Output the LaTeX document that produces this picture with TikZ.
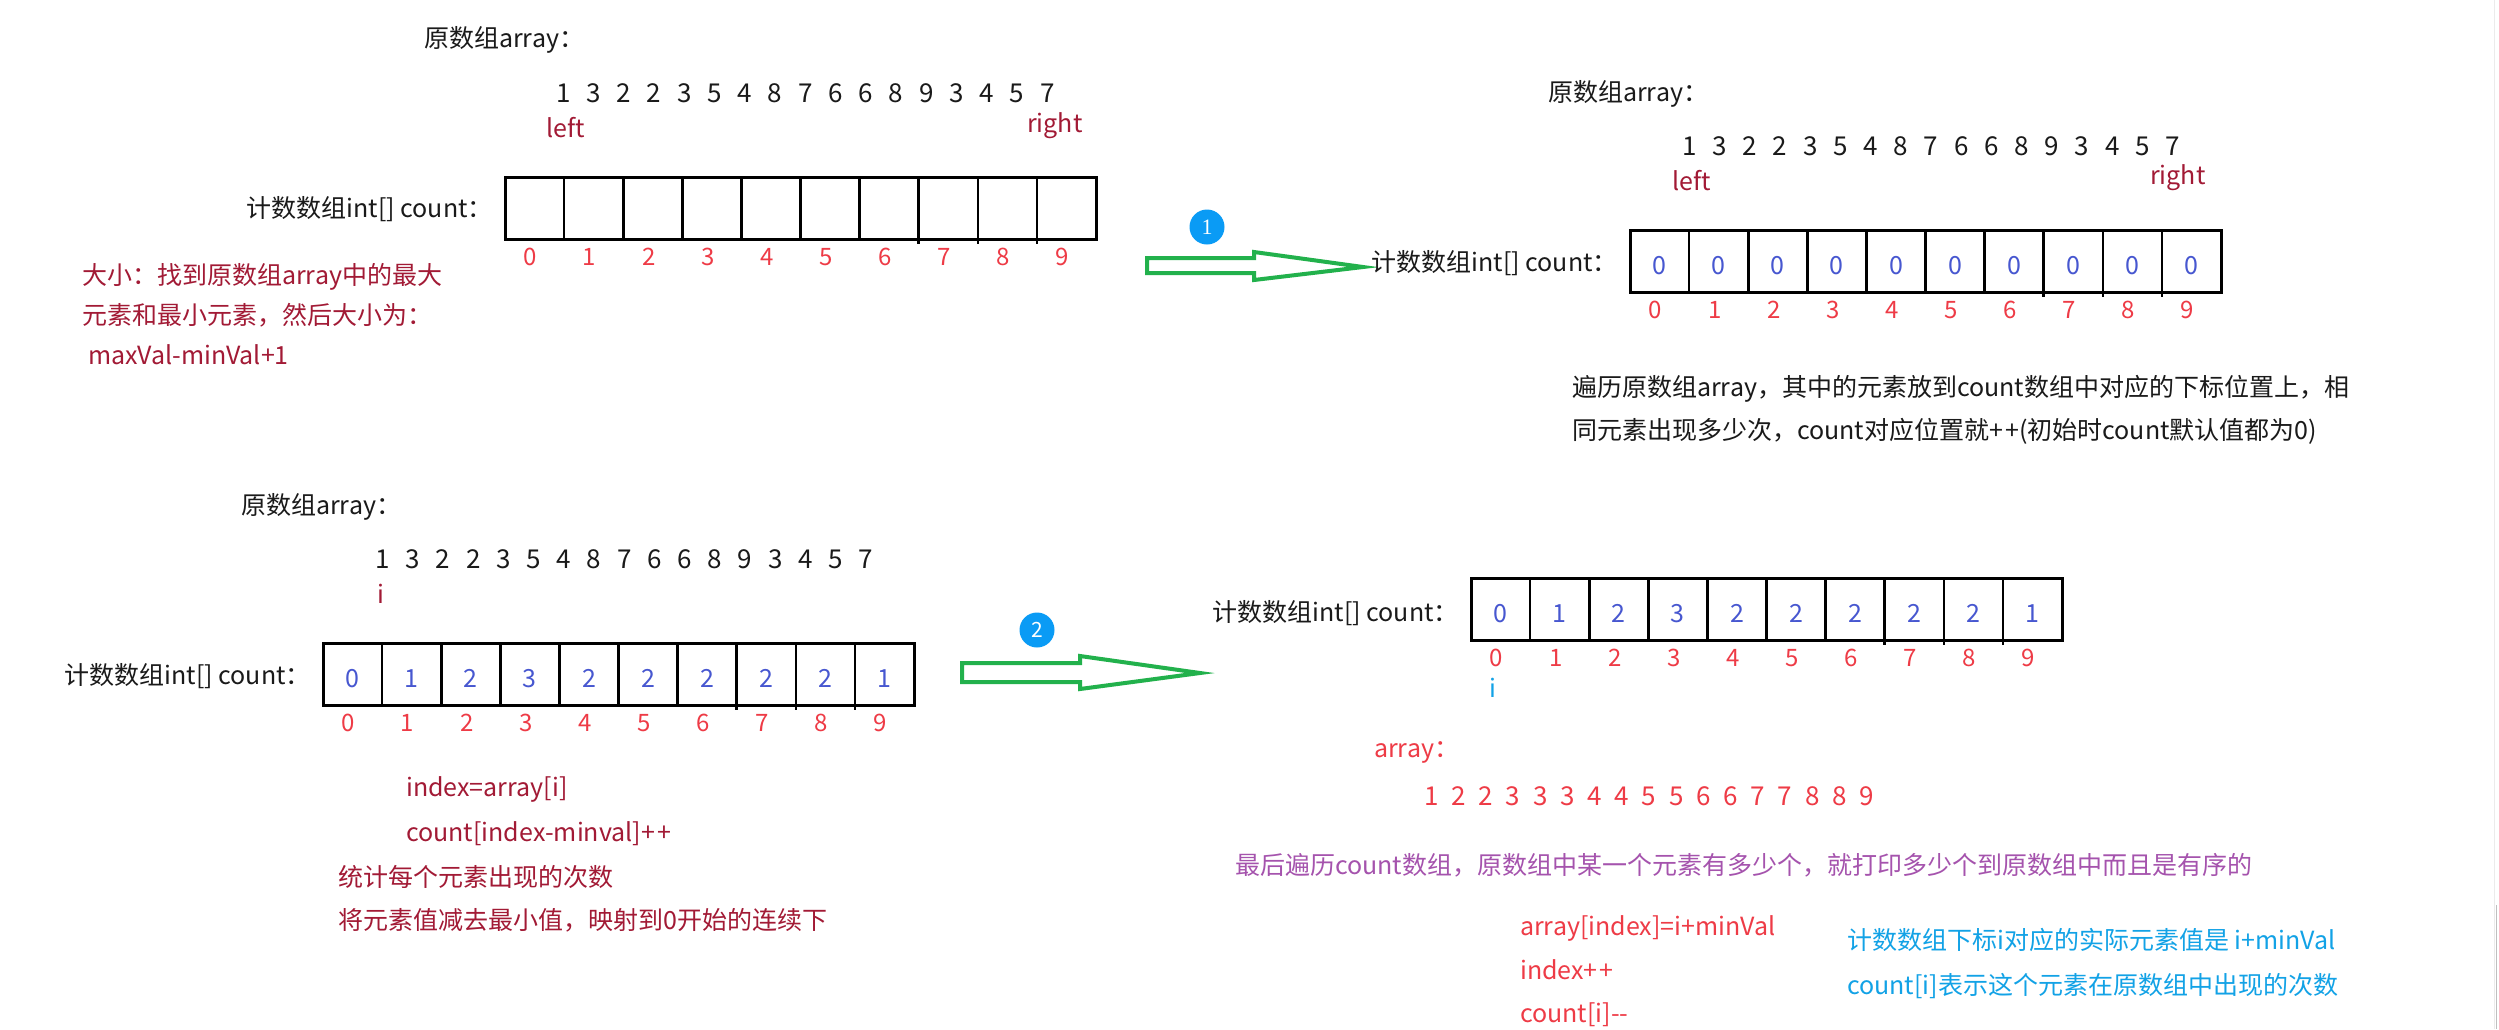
\documentclass[tikz,border=0pt]{standalone}
\usepackage{fontspec}
\setmainfont{Noto Sans CJK SC}
\newfontfamily\badgeserif{Liberation Serif}
\definecolor{dred}{HTML}{A21A35}
\definecolor{bred}{HTML}{EE3B46}
\definecolor{vblue}{HTML}{4757D0}
\definecolor{purp}{HTML}{A553AD}
\definecolor{cyanb}{HTML}{12A2E6}
\definecolor{cblue}{HTML}{0A9BF5}
\definecolor{agreen}{HTML}{22B14C}
\definecolor{txtblack}{HTML}{1A1A1A}
\newcommand\pp{+\kern2pt+}
\newcommand\cntframe[2]{%
  \draw[boxline] (#1,#2) rectangle ++(591,62);
  \foreach \k in {1,...,9} {\draw[divline] ({#1+59.1*\k},#2) -- ++(0,62);}
  \foreach \k in {7,8,9} {\draw[divline] ({#1+59.1*\k},{#2+62}) -- ++(0,5);}
}
\newcommand\idxrow[3]{%
  \foreach \k in {0,...,9} {\node[idx] (#1\k) at ({#2+29.55+59.1*\k-4},{#3+62+18+8}) {\k};}
}
\newcommand\valrow[4]{%
  \foreach \v [count=\k from 0] in {#4} {\node[val] (#1\k) at ({#2+29.55+59.1*\k},{#3+36+8.5}) {\v};}
}
\newcommand\digrow[6]{%
  \foreach \d [count=\k from 0] in {#6} {\node[dig, text=#5] (#1\k) at ({#2+#3*\k},{#4+8.5}) {\d};}
}
\begin{document}
\begin{tikzpicture}[x=1pt,y=-1pt,
  txt/.style={anchor=base west, inner sep=0pt, font=\fontsize{25}{30}\selectfont, text=txtblack},
  lbl/.style={anchor=base east, inner sep=0pt, font=\fontsize{25}{30}\selectfont, text=txtblack},
  dig/.style={anchor=base, inner sep=0pt, font=\fontsize{26}{30}\selectfont},
  val/.style={anchor=base, inner sep=0pt, font=\fontsize{25}{30}\selectfont, text=vblue},
  idx/.style={anchor=base, inner sep=0pt, font=\fontsize{24}{28}\selectfont, text=bred},
  boxline/.style={line width=3pt, draw=black},
  divline/.style={line width=2.6pt, draw=black},
  blockarrow/.style={draw=agreen, line width=4pt, fill=white, line join=miter},
  badge/.style={circle, fill=cblue, minimum size=35pt, inner sep=0pt, text=white}
]
\fill[white] (0,0) rectangle (2499,1029);
\useasboundingbox (0,0) rectangle (2499,1029);
\draw[black!8, line width=1pt] (2494,0) -- (2494,1029);
\draw[black!25, line width=1pt] (2496,905) -- (2496,1029);

% ---------- top left ----------
\node[txt] (t1) at (424,47.5) {原数组array：};
\digrow{ra}{563.3}{30.25}{94}{txtblack}{1,3,2,2,3,5,4,8,7,6,6,8,9,3,4,5,7}
\node[txt, text=dred] (l1) at (546,137) {left};
\node[txt, text=dred] (g1) at (1027,132) {right};
\node[lbl] (c1) at (493,217.5) {计数数组int[] count：};
\cntframe{505}{177}
\idxrow{ia}{505}{177}
\node[txt, text=dred] (s1) at (82,284.5) {大小：找到原数组array中的最大};
\node[txt, text=dred] (s2) at (82,324.5) {元素和最小元素，然后大小为：};
\node[txt, text=dred] (s3) at (88,364) {maxVal-minVal+1};

% ---------- arrow 1 ----------
\node[badge, font=\badgeserif\fontsize{22}{24}\selectfont] (b1) at (1207,227) {1};
\draw[blockarrow] (1147,258) -- (1254,258) -- (1254,252) -- (1363,267) -- (1254,280) -- (1254,273) -- (1147,273) -- cycle;

% ---------- top right ----------
\node[txt] (t2) at (1548,101.5) {原数组array：};
\digrow{rb}{1689.4}{30.2}{147}{txtblack}{1,3,2,2,3,5,4,8,7,6,6,8,9,3,4,5,7}
\node[txt, text=dred] (l2) at (1672,190) {left};
\node[txt, text=dred] (g2) at (2150,184) {right};
\node[lbl] (c2) at (1618,271.5) {计数数组int[] count：};
\cntframe{1630}{230}
\valrow{vb}{1630}{230}{0,0,0,0,0,0,0,0,0,0}
\idxrow{ib}{1630}{230}
\node[txt] (p1) at (1572,396.5) {遍历原数组array，其中的元素放到count数组中对应的下标位置上，相};
\node[txt] (p2) at (1572,439.5) {同元素出现多少次，count对应位置就\pp(初始时count默认值都为0)};

% ---------- bottom left ----------
\node[txt] (t3) at (241,514.5) {原数组array：};
\digrow{rc}{382.7}{30.2}{560}{txtblack}{1,3,2,2,3,5,4,8,7,6,6,8,9,3,4,5,7}
\node[txt, anchor=base, text=dred] (i3) at (381,603) {i};
\node[lbl] (c3) at (311,684.5) {计数数组int[] count：};
\cntframe{323}{643}
\valrow{vc}{323}{643}{0,1,2,3,2,2,2,2,2,1}
\idxrow{ic}{323}{643}
\node[txt, text=dred] (q1) at (406,796) {index=array[i]};
\node[txt, text=dred] (q2) at (406,841) {count[index-minval]\pp};
\node[txt, text=dred] (q3) at (338,886.5) {统计每个元素出现的次数};
\node[txt, text=dred] (q4) at (338,929.5) {将元素值减去最小值，映射到0开始的连续下};

% ---------- arrow 2 ----------
\node[badge, font=\fontsize{21}{24}\selectfont] (b2) at (1037,630) {2};
\draw[blockarrow] (962,663) -- (1080,663) -- (1080,656) -- (1200,673) -- (1080,689) -- (1080,682) -- (962,682) -- cycle;

% ---------- bottom right ----------
\node[lbl] (c4) at (1459,621.5) {计数数组int[] count：};
\cntframe{1471}{578}
\valrow{vd}{1471}{578}{0,1,2,3,2,2,2,2,2,1}
\idxrow{id}{1471}{578}
\node[txt, anchor=base, text=cyanb] (i4) at (1493,697) {i};
\node[txt, text=bred] (a4) at (1374,757) {array：};
\digrow{rd}{1431.4}{27.2}{797}{bred}{1,2,2,3,3,3,4,4,5,5,6,6,7,7,8,8,9}
\node[txt, text=purp] (m1) at (1235,874.5) {最后遍历count数组，原数组中某一个元素有多少个，就打印多少个到原数组中而且是有序的};
\node[txt, text=bred] (e1) at (1520,935) {array[index]=i+minVal};
\node[txt, text=bred] (e2) at (1520,979) {index\pp};
\node[txt, text=bred] (e3) at (1520,1022) {count[i]{-}{-}};
\node[txt, text=cyanb] (k1) at (1847,949.5) {计数数组下标i对应的实际元素值是 i+minVal};
\node[txt, text=cyanb] (k2) at (1847,994.5) {count[i]表示这个元素在原数组中出现的次数};
\end{tikzpicture}
\end{document}
